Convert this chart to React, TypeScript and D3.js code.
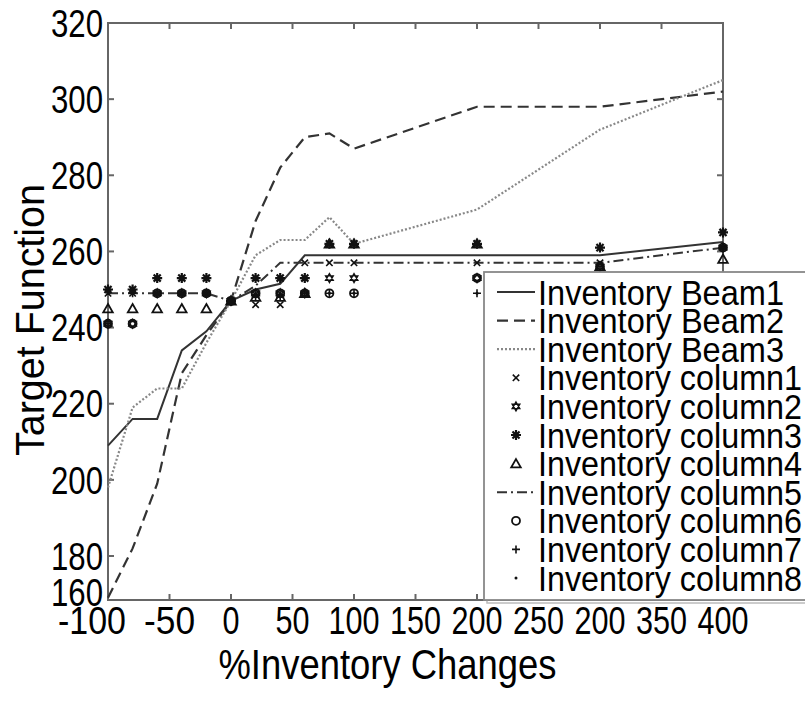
import React from 'react';
import * as d3 from 'd3';

// % inventory change at which each run was made
const xValues = [-100, -80, -60, -40, -20, 0, 20, 40, 60, 80, 100, 200, 300, 400];

const beam1 = [209, 216, 216, 234, 239, 247, 250, 251.5, 259, 259, 259, 259, 259, 262.5];
const beam2 = [161, 182, 199, 228, 238, 247, 268, 282, 290, 291, 287, 298, 298, 302];
const beam3 = [198, 219, 224, 224, 236, 247, 259, 263, 263, 269, 262, 271, 292, 305];
const column5 = [249, 249, 249, 249, 249, 247, 251, 257, 257, 257, 257, 257, 257, 261];

const column1 = [249, 249, 249, 249, 249, 247, 246, 246, 257, 257, 257, 257, 257, 261];
const column2 = [241, 241, 249, 249, 249, 247, 249, 249, 249, 253, 253, 253, 256, 261];
const column3 = [250, 250, 253, 253, 253, 247, 253, 253, 253, 262, 262, 262, 261, 265];
const column4 = [245, 245, 245, 245, 245, 247, 248, 248, 249, 262, 262, 262, 256, 258];
const column6 = [241, 241, 249, 249, 249, 247, 249, 249, 249, 249, 249, 253, 256, 261];
const column7 = [241, 249, 249, 249, 249, 247, 248, 248, 249, 249, 249, 249, 256, 261];
const column8 = [249, 249, 249, 249, 249, 247, 249, 249, 249, 249, 249, 249, 257, 261];

const xTicks = [-100, -50, 0, 50, 100, 150, 200, 250, 300, 350, 400];
// the source prints "200" where 300 should be
const xTickLabels = ['-100', '-50', '0', '50', '100', '150', '200', '250', '200', '350', '400'];
const yTicks = [160, 180, 200, 220, 240, 260, 280, 300, 320];

const legendLabels = [
    'Inventory Beam1', 'Inventory Beam2', 'Inventory Beam3', 'Inventory column1',
    'Inventory column2', 'Inventory column3', 'Inventory column4', 'Inventory column5',
    'Inventory column6', 'Inventory column7', 'Inventory column8'
];

const W = 805;
const H = 713;
const margin = {top: 23, right: 82, bottom: 113, left: 108};
const FONT = 'Liberation Sans, Arial, sans-serif';
const INK = '#111';

type Kind = 'cross' | 'hex' | 'ast' | 'tri' | 'circle' | 'plus' | 'dot';

function Marker({kind, cx, cy}: {kind: Kind; cx: number; cy: number})
{
    if (kind === 'cross')
    {
        const s = 3.2;
        return <path d={`M${cx - s},${cy - s}L${cx + s},${cy + s}M${cx - s},${cy + s}L${cx + s},${cy - s}`}
                     stroke={INK} strokeWidth={1.6} fill="none"/>;
    }
    if (kind === 'plus')
    {
        const s = 4;
        return <path d={`M${cx - s},${cy}L${cx + s},${cy}M${cx},${cy - s}L${cx},${cy + s}`}
                     stroke={INK} strokeWidth={1.6} fill="none"/>;
    }
    if (kind === 'circle')
    {
        return <circle cx={cx} cy={cy} r={4} stroke={INK} strokeWidth={1.8} fill="none"/>;
    }
    if (kind === 'dot')
    {
        return <circle cx={cx} cy={cy} r={1.5} fill={INK}/>;
    }
    if (kind === 'tri')
    {
        const r = 5.5;
        const p = [0, 1, 2].map(k =>
        {
            const a = -Math.PI / 2 + k * 2 * Math.PI / 3;
            return `${cx + r * Math.cos(a)},${cy + 1 + r * Math.sin(a)}`;
        });
        return <path d={`M${p.join('L')}Z`} stroke={INK} strokeWidth={1.8} fill="none"/>;
    }
    if (kind === 'hex')
    {
        const r = 4.4;
        const tri = (off: number) => [0, 1, 2].map(k =>
        {
            const a = off + k * 2 * Math.PI / 3;
            return `${cx + r * Math.cos(a)},${cy + r * Math.sin(a)}`;
        });
        return <path d={`M${tri(-Math.PI / 2).join('L')}ZM${tri(Math.PI / 2).join('L')}Z`}
                     stroke={INK} strokeWidth={1.4} fill="none"/>;
    }
    // asterisk
    const r = 5;
    const d = [0, 1, 2, 3].map(k =>
    {
        const a = k * Math.PI / 4;
        return `M${cx - r * Math.cos(a)},${cy - r * Math.sin(a)}L${cx + r * Math.cos(a)},${cy + r * Math.sin(a)}`;
    }).join('');
    return <path d={d} stroke={INK} strokeWidth={2.2} fill="none"/>;
}

const lineSeries = [
    {values: beam1, dash: 'none', color: '#333', width: 2},
    {values: beam2, dash: '11,6', color: '#333', width: 2.2},
    {values: beam3, dash: '2,2', color: '#888', width: 2.2},
    {values: column5, dash: '10,4,2,4', color: '#333', width: 2}
];

const markerSeries: {values: number[]; kind: Kind}[] = [
    {values: column1, kind: 'cross'},
    {values: column2, kind: 'hex'},
    {values: column4, kind: 'tri'},
    {values: column6, kind: 'circle'},
    {values: column7, kind: 'plus'},
    {values: column8, kind: 'dot'},
    {values: column3, kind: 'ast'}
];

// legend symbol for each entry, in the order of legendLabels
const legendKeys: ({line: number} | {marker: Kind})[] = [
    {line: 0}, {line: 1}, {line: 2}, {marker: 'cross'}, {marker: 'hex'}, {marker: 'ast'},
    {marker: 'tri'}, {line: 3}, {marker: 'circle'}, {marker: 'plus'}, {marker: 'dot'}
];

export default function App()
{
    const yBottom = H - margin.bottom;
    // the lowest interval (160-180) is drawn shorter than the others in the source figure
    const y = d3.scaleLinear()
        .domain([160, 180, 320])
        .range([yBottom, yBottom - 44, margin.top]);
    const x = d3.scaleLinear().domain([-100, 400]).range([margin.left, W - margin.right]);

    const line = d3.line<number>()
        .x((d, i) => x(xValues[i]))
        .y(d => y(d));

    const x0 = x.range()[0], x1 = x.range()[1];
    const y0 = yBottom, y1 = margin.top;
    const tickLen = 6;

    const legendX = 484, legendY = 272, legendH = y0 - 272, rowH = 28.6;

    return (
        <svg width={W} height={H} style={{position: 'absolute', left: 0, top: 0, background: '#fff'}}
             fontFamily={FONT}>
            <rect x={0} y={0} width={W} height={H} fill="#fff"/>

            {/* frame and inward ticks */}
            <g stroke="#666" strokeWidth={2} fill="none">
                <rect x={x0} y={y1} width={x1 - x0} height={y0 - y1}/>
                {xTicks.map(t => (
                    <g key={'xt' + t}>
                        <line x1={x(t)} x2={x(t)} y1={y0} y2={y0 - tickLen}/>
                        <line x1={x(t)} x2={x(t)} y1={y1} y2={y1 + tickLen}/>
                    </g>
                ))}
                {yTicks.map(t => (
                    <g key={'yt' + t}>
                        <line x1={x0} x2={x0 + tickLen} y1={y(t)} y2={y(t)}/>
                        <line x1={x1} x2={x1 - tickLen} y1={y(t)} y2={y(t)}/>
                    </g>
                ))}
            </g>

            {/* series lines */}
            {lineSeries.map((s, i) => (
                <path key={'l' + i} d={line(s.values) || ''} fill="none" stroke={s.color}
                      strokeWidth={s.width} strokeDasharray={s.dash}/>
            ))}

            {/* column markers */}
            {markerSeries.map(s => s.values.map((v, i) => (
                <Marker key={s.kind + i} kind={s.kind} cx={x(xValues[i])} cy={y(v)}/>
            )))}

            {/* tick labels */}
            {yTicks.map((t, i) => (
                <text key={'yl' + t} x={x0 - 5} y={y(t) - (i === 0 ? 8 : 0)} dy="0.36em" textAnchor="end"
                      fontSize={38} textLength={52} lengthAdjust="spacingAndGlyphs" fill="#000">{t}</text>
            ))}
            {xTicks.map((t, i) => (
                <text key={'xl' + t} x={x(t) + (i === 0 ? -16 : 0)} y={y0 + 34} textAnchor="middle"
                      fontSize={38} textLength={xTickLabels[i].length * 17}
                      lengthAdjust="spacingAndGlyphs" fill="#000">{xTickLabels[i]}</text>
            ))}

            {/* axis titles */}
            <text x={(x0 + x1) / 2 - 28} y={y0 + 79} textAnchor="middle" fontSize={42} textLength={338}
                  lengthAdjust="spacingAndGlyphs" fill="#000">%Inventory Changes</text>
            <text transform={`translate(44,320) rotate(-90)`} textAnchor="middle" fontSize={40}
                  textLength={272} lengthAdjust="spacingAndGlyphs" fill="#000">Target Function</text>

            {/* legend */}
            <rect x={legendX + 3} y={legendY + 3} width={W} height={legendH} fill="none" stroke="#bbb"
                  strokeWidth={1.5}/>
            <rect x={legendX} y={legendY} width={W} height={legendH} fill="#fff" stroke="#888"
                  strokeWidth={1.8}/>
            {legendLabels.map((label, i) =>
            {
                const cy = legendY + 20 + i * rowH;
                const key = legendKeys[i];
                return (
                    <g key={label}>
                        {'line' in key
                            ? <line x1={497} x2={535} y1={cy} y2={cy} stroke={lineSeries[key.line].color}
                                    strokeWidth={lineSeries[key.line].width}
                                    strokeDasharray={lineSeries[key.line].dash}/>
                            : <Marker kind={key.marker} cx={516} cy={cy}/>}
                        <text x={538} y={cy} dy="0.36em" fontSize={35}
                              textLength={label.includes('Beam') ? 246 : 264}
                              lengthAdjust="spacingAndGlyphs" fill="#000">{label}</text>
                    </g>
                );
            })}
        </svg>
    );
}
